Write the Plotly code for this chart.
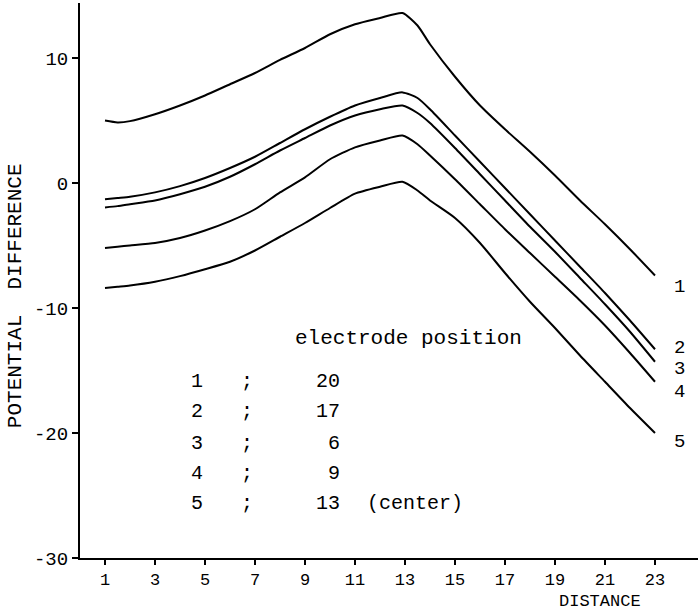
import plotly.graph_objects as go

# distance positions where the curves were read
distance = [1, 1.5, 2, 3, 4, 5, 6, 7, 8, 9, 10, 11, 12, 12.9, 13.5, 14, 15, 16, 17, 18, 19, 20, 21, 22, 23]

curve1 = [5.0, 4.85, 4.95, 5.5, 6.2, 7.0, 7.9, 8.8, 9.85, 10.8, 11.9, 12.7, 13.2, 13.6, 12.6, 11.1, 8.5, 6.2, 4.3, 2.5, 0.6, -1.4, -3.3, -5.3, -7.4]
curve2 = [-1.3, -1.2, -1.1, -0.75, -0.25, 0.4, 1.2, 2.1, 3.2, 4.3, 5.3, 6.2, 6.8, 7.25, 6.8, 5.9, 3.8, 1.7, -0.4, -2.5, -4.6, -6.7, -8.8, -11.0, -13.3]
curve3 = [-1.95, -1.85, -1.7, -1.4, -0.9, -0.3, 0.5, 1.5, 2.6, 3.6, 4.6, 5.4, 5.9, 6.2, 5.6, 4.8, 2.8, 0.7, -1.4, -3.5, -5.5, -7.6, -9.7, -11.9, -14.3]
curve4 = [-5.2, -5.1, -5.0, -4.8, -4.4, -3.8, -3.05, -2.1, -0.75, 0.45, 1.9, 2.85, 3.4, 3.8, 3.1, 2.2, 0.3, -1.7, -3.7, -5.6, -7.5, -9.4, -11.4, -13.6, -15.9]
curve5 = [-8.4, -8.3, -8.2, -7.9, -7.45, -6.9, -6.3, -5.4, -4.3, -3.2, -2.0, -0.85, -0.3, 0.1, -0.6, -1.4, -2.8, -4.8, -7.2, -9.5, -11.6, -13.8, -15.9, -18.0, -20.0]

curves = [curve1, curve2, curve3, curve4, curve5]
curve_labels = ["1", "2", "3", "4", "5"]
label_y = [-8.3, -13.2, -14.9, -16.7, -20.7]

electrode_numbers = ["1", "2", "3", "4", "5"]
electrode_positions = ["20", "17", "6", "9", "13"]
legend_rows_y = [-15.9, -18.3, -20.8, -23.2, -25.6]

x_ticks = [1, 3, 5, 7, 9, 11, 13, 15, 17, 19, 21, 23]
y_ticks = [-30, -20, -10, 0, 10]
y_tick_text = ["-30", "-20", "-10", "0", "10"]

MONO = "Liberation Mono"

fig = go.Figure()
for c in curves:
    fig.add_trace(go.Scatter(x=distance, y=c, mode="lines",
                             line=dict(color="black", width=2, shape="spline", smoothing=0.6),
                             showlegend=False, hoverinfo="skip"))

ann = []
for lab, yv in zip(curve_labels, label_y):
    ann.append(dict(x=23.96, y=yv, xref="x", yref="y", text=lab, showarrow=False,
                    font=dict(family=MONO, size=19, color="black"), xanchor="center", yanchor="middle"))

ann.append(dict(x=8.52, y=-12.4, xref="x", yref="y", text="electrode position", showarrow=False,
                font=dict(family=MONO, size=21, color="black"), xanchor="left", yanchor="middle"))
for num, pos, yv in zip(electrode_numbers, electrode_positions, legend_rows_y):
    ann.append(dict(x=4.68, y=yv, xref="x", yref="y", text=num, showarrow=False,
                    font=dict(family=MONO, size=20, color="black"), xanchor="center", yanchor="middle"))
    ann.append(dict(x=6.68, y=yv, xref="x", yref="y", text=";", showarrow=False,
                    font=dict(family=MONO, size=20, color="black"), xanchor="center", yanchor="middle"))
    ann.append(dict(x=10.48, y=yv, xref="x", yref="y", text=pos, showarrow=False,
                    font=dict(family=MONO, size=20, color="black"), xanchor="right", yanchor="middle"))
ann.append(dict(x=11.4, y=legend_rows_y[-1], xref="x", yref="y", text="(center)", showarrow=False,
                font=dict(family=MONO, size=20, color="black"), xanchor="left", yanchor="middle"))

ann.append(dict(x=-0.105, y=0.472, xref="paper", yref="paper", text="POTENTIAL  DIFFERENCE",
                showarrow=False, textangle=-90, font=dict(family=MONO, size=21, color="black"),
                xanchor="center", yanchor="middle"))
ann.append(dict(x=20.8, y=-0.0973, xref="x", yref="paper", text="DISTANCE", showarrow=False,
                font=dict(family=MONO, size=17, color="black"), xanchor="center", yanchor="bottom",
                borderpad=0))

fig.update_layout(
    width=698, height=612,
    margin=dict(l=80, r=0, t=3, b=54),
    paper_bgcolor="white", plot_bgcolor="white",
    annotations=ann,
    xaxis=dict(range=[0, 24.72], tickvals=x_ticks, showgrid=False, zeroline=False,
               showline=True, linecolor="black", linewidth=2, ticks="outside", ticklen=5,
               tickcolor="black", tickwidth=2, tickfont=dict(family=MONO, size=17, color="black")),
    yaxis=dict(range=[-30, 14.4], tickvals=y_ticks, ticktext=y_tick_text, showgrid=False, zeroline=False,
               showline=True, linecolor="black", linewidth=2, ticks="outside", ticklen=6,
               tickcolor="black", tickwidth=2, tickfont=dict(family=MONO, size=19, color="black")),
)

fig.write_html("out.html", config={"displayModeBar": False},
               post_script="document.body.style.margin='0';document.body.style.overflow='hidden';")
